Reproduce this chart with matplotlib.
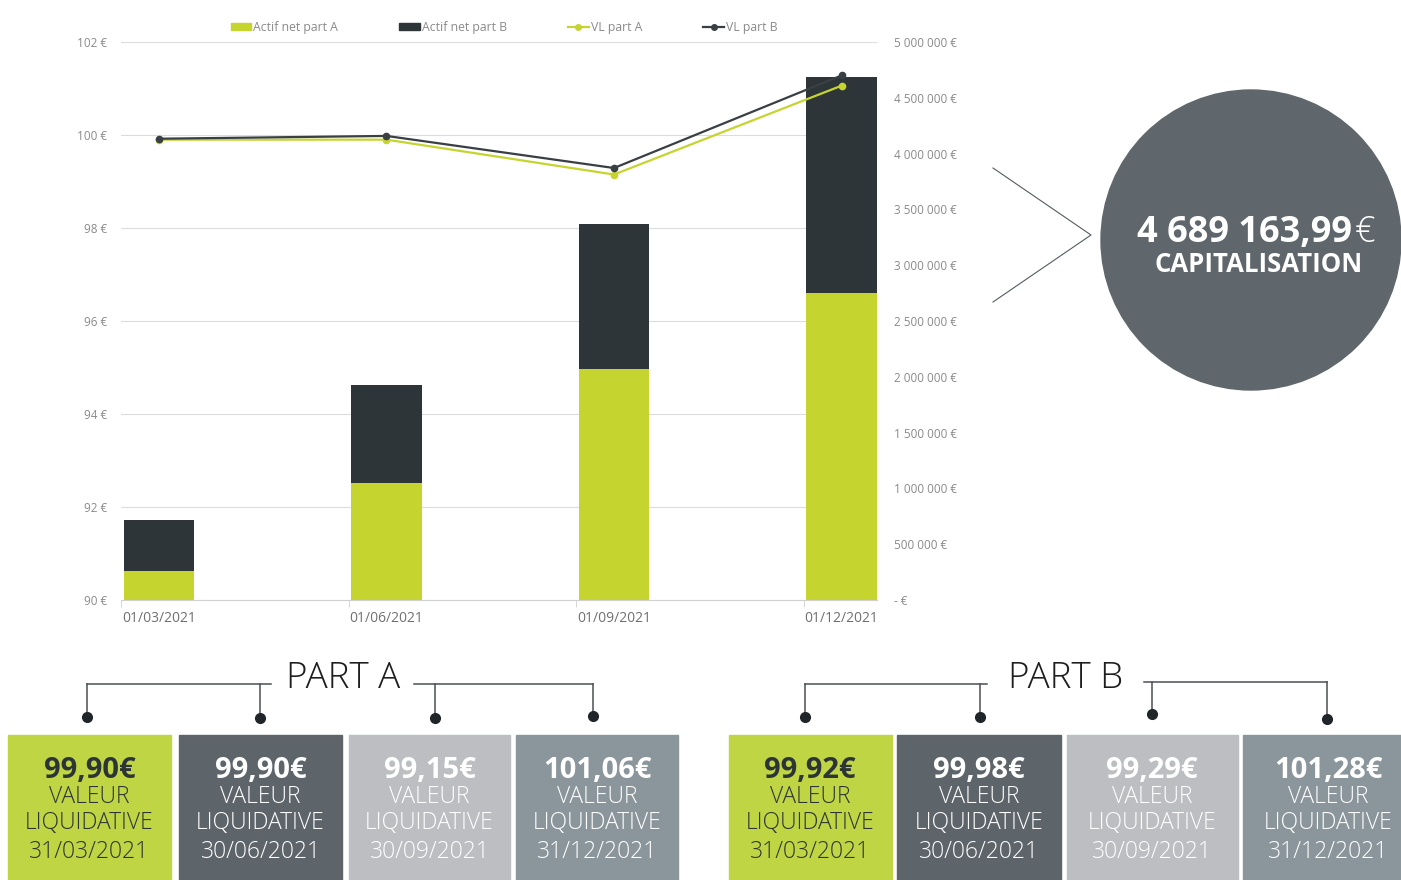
import matplotlib
matplotlib.use("Agg")
import matplotlib.pyplot as plt
import matplotlib.patches as mpatches
from matplotlib.ticker import FuncFormatter, FixedLocator
from matplotlib.lines import Line2D

plt.rcParams['font.family'] = ['Open Sans', 'DejaVu Sans']

# ---------------- data ----------------
dates = ['01/03/2021', '01/06/2021', '01/09/2021', '01/12/2021']
actif_net_a = [260000, 1048000, 2070000, 2751000]
actif_net_b = [457000, 879000, 1299000, 1938000]
vl_part_a = [99.90, 99.90, 99.15, 101.06]
vl_part_b = [99.92, 99.98, 99.29, 101.28]
box_dates = ['31/03/2021', '30/06/2021', '30/09/2021', '31/12/2021']
capitalisation = 4689163.99

# ---------------- style ----------------
GREEN = '#c5d42e'
DARK = '#2e3538'
LINE_B = '#3a3f44'
GRID = '#dcdcdc'
TICK = '#8a8a8a'
BOX_COLORS = ['#bfd543', '#5d646a', '#bcbec1', '#8a959c']
BOX_TEXT = ['#2d3436', 'white', 'white', 'white']
CIRCLE = '#5f676c'
LIGHT = 300

W, H = 1401, 880
fig = plt.figure(figsize=(W / 100, H / 100), dpi=100)
fig.patch.set_facecolor('white')

def fx(px):
    return px / W

def fy(py):
    return 1 - py / H

# main axes: bars (right axis)
left, right, top, bottom = 121, 877, 42, 600
ax = fig.add_axes([fx(left), fy(bottom), fx(right) - fx(left), (bottom - top) / H])
ax2 = ax.twinx()

x = list(range(len(dates)))
bw = 0.31
ax.bar(x, actif_net_a, width=bw, color=GREEN, zorder=2, label='Actif net part A')
ax.bar(x, actif_net_b, width=bw, bottom=actif_net_a, color=DARK, zorder=2, label='Actif net part B')
ax.set_ylim(0, 5000000)
ax.set_xlim(-0.167, 3.156)
ax.yaxis.tick_right()
ax.yaxis.set_major_locator(FixedLocator([i * 500000 for i in range(11)]))

def eur_big(v, pos):
    if v == 0:
        return '- €'
    return f"{int(v):,}".replace(',', ' ') + ' €'

ax.yaxis.set_major_formatter(FuncFormatter(eur_big))
ax.tick_params(axis='y', which='major', direction='in', length=5, color='#e0e0e0',
               labelcolor=TICK, labelsize=8.5, pad=12, left=False, right=True,
               labelleft=False, labelright=True)
ax.set_xticks(x)
ax.set_xticklabels(dates)
ax.xaxis.set_minor_locator(FixedLocator([-0.167, 0.833, 1.833, 2.833]))
ax.tick_params(axis='x', which='major', length=0, labelsize=10, labelcolor='#707070', pad=8)
ax.tick_params(axis='x', which='minor', length=5, color='#d0d0d0', direction='out')
for s in ['top', 'left', 'right']:
    ax.spines[s].set_visible(False)
ax.spines['bottom'].set_color('#d0d0d0')
for v in [90, 92, 94, 96, 98, 100, 102]:
    ax.axhline((v - 90) / 12 * 5000000, color=GRID, lw=0.8, zorder=0)

# line axes (left axis)
ax2.set_ylim(90, 102)
ax2.set_yticks([90, 92, 94, 96, 98, 100, 102])
ax2.yaxis.set_major_formatter(FuncFormatter(lambda v, p: f"{int(v)} €"))
ax2.tick_params(axis='y', length=0, labelcolor=TICK, labelsize=8.5, pad=10,
                left=False, right=False, labelleft=True, labelright=False)
for s in ['top', 'left', 'right', 'bottom']:
    ax2.spines[s].set_visible(False)
ax2.plot(x, vl_part_a, color=GREEN, lw=1.6, marker='o', ms=4.5, zorder=5, label='VL part A')
ax2.plot(x, vl_part_b, color=LINE_B, lw=1.6, marker='o', ms=4.5, zorder=6, label='VL part B')
ax2.patch.set_alpha(0)

# legend
handles = [
    mpatches.Patch(color=GREEN, label='Actif net part A'),
    mpatches.Patch(color=DARK, label='Actif net part B'),
    Line2D([], [], color=GREEN, lw=1.6, marker='o', ms=4, label='VL part A'),
    Line2D([], [], color=LINE_B, lw=1.6, marker='o', ms=4, label='VL part B'),
]
leg = fig.legend(handles=handles, loc='center', bbox_to_anchor=(fx(504), fy(27)), ncol=4,
                 frameon=False, fontsize=8.8, handlelength=1.7, handleheight=0.5,
                 handletextpad=0.15, columnspacing=5.0)
for t in leg.get_texts():
    t.set_color('#8a8a8a')

# overlay for decorations
ov = fig.add_axes([0, 0, 1, 1])
ov.set_xlim(0, W)
ov.set_ylim(H, 0)
ov.axis('off')
ov.patch.set_alpha(0)

# chevron + circle
ov.plot([993, 1091, 993], [168, 235, 302], color='#555b60', lw=0.8)
ov.add_patch(mpatches.Circle((1251, 240), 150, color=CIRCLE, zorder=3))
cap_txt = f"{capitalisation:,.2f}".replace(',', ' ').replace('.', ',')
ov.text(1352, 233, cap_txt, ha='right', va='center', color='white', fontsize=26,
        fontweight='bold', zorder=4)
ov.text(1355, 233, '€', ha='left', va='center', color='white', fontsize=26,
        fontweight=LIGHT, zorder=4)
ov.text(1259, 264, 'CAPITALISATION', ha='center', va='center', color='white',
        fontsize=18.5, fontweight='bold', zorder=4)

# brackets
BR = '#4a5055'

def bracket(xl, xr, yh, legs):
    ov.plot([xl, xr], [yh, yh], color=BR, lw=1.1)
    for (lx, dy) in legs:
        ov.plot([lx, lx], [yh, dy], color=BR, lw=1.1)
        ov.plot([lx], [dy], 'o', color='#1f2528', ms=7)

bracket(87, 271, 684, [(87, 717), (260, 718)])
bracket(414, 593, 684, [(435, 718), (593, 716)])
bracket(805, 987, 684, [(805, 717), (980, 717)])
bracket(1144, 1327, 682, [(1152, 714), (1327, 719)])

ov.text(343, 678, 'PART A', ha='center', va='center', fontsize=26.5, fontweight=LIGHT, color='#1e1e1e')
ov.text(1066, 678, 'PART B', ha='center', va='center', fontsize=26.5, fontweight=LIGHT, color='#1e1e1e')

# boxes
boxes_a = [(8, 171), (179, 342), (349, 510), (516, 678)]
boxes_b = [(729, 892), (897, 1061), (1067, 1238), (1243, 1415)]
text_cx_b = [810, 979, 1152, 1328]

def draw_boxes(boxes, values, centers=None):
    for i, (x0, x1) in enumerate(boxes):
        ov.add_patch(mpatches.Rectangle((x0, 735), x1 - x0, 150, color=BOX_COLORS[i], zorder=2))
        cx = centers[i] if centers else (x0 + x1) / 2
        val = f"{values[i]:.2f}".replace('.', ',') + '€'
        c = BOX_TEXT[i]
        ov.text(cx, 770, val, ha='center', va='center', fontsize=21, fontweight='bold', color=c, zorder=3)
        ov.text(cx, 797, 'VALEUR', ha='center', va='center', fontsize=16.5, fontweight=LIGHT, color=c, zorder=3)
        ov.text(cx, 823, 'LIQUIDATIVE', ha='center', va='center', fontsize=16.5, fontweight=LIGHT, color=c, zorder=3)
        ov.text(cx, 852, box_dates[i], ha='center', va='center', fontsize=16.5, fontweight=LIGHT, color=c, zorder=3)

draw_boxes(boxes_a, vl_part_a)
draw_boxes(boxes_b, vl_part_b, text_cx_b)

fig.savefig('out.png', dpi=100, facecolor='white')
